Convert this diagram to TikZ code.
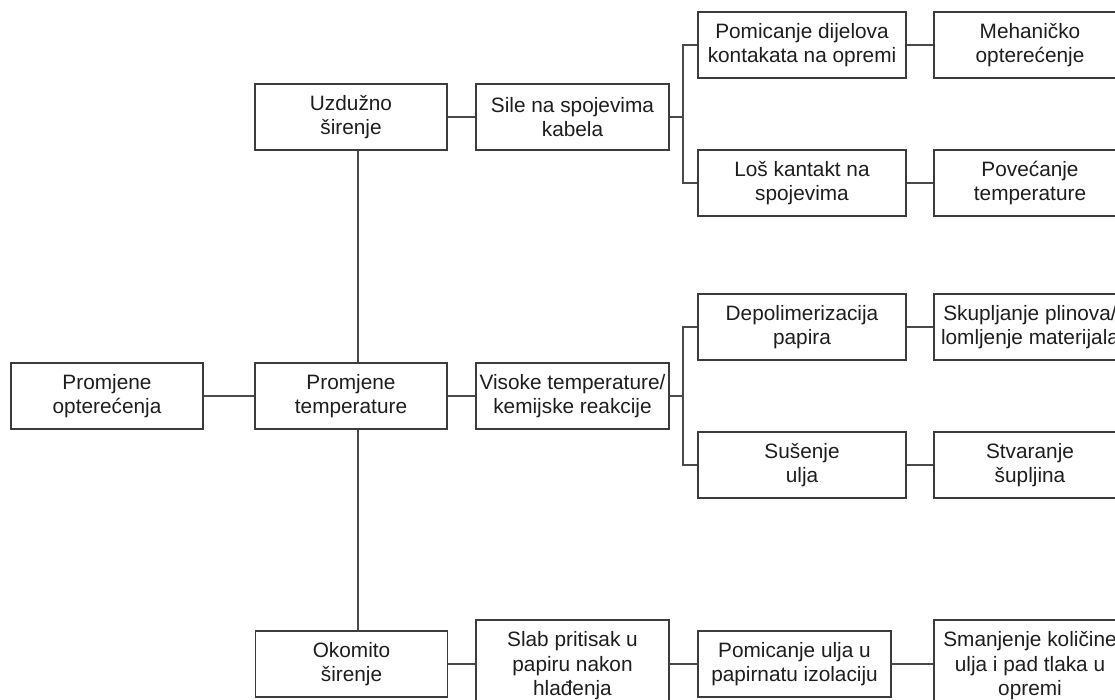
\documentclass[tikz,border=0pt]{standalone}
\usepackage{fontspec}
\setmainfont{Liberation Sans}
\definecolor{boxline}{HTML}{3C3C3C}
\definecolor{conn}{HTML}{4A4A4A}
\definecolor{txt}{HTML}{1E1E1E}
\begin{document}
\begin{tikzpicture}[x=1pt,y=-1pt,
  box/.style={draw=boxline, line width=1.4pt, fill=white, inner sep=0pt, align=center,
    minimum height=66pt, text=txt, font=\fontsize{20.8}{24.5}\selectfont},
  wA/.style={minimum width=192pt},
  wB/.style={minimum width=208pt},
  link/.style={draw=conn, line width=1.4pt}]
\useasboundingbox (0,0) rectangle (1115,699);
\clip (0,0) rectangle (1115,699);
% column 1
\node[box,wA] (A) at (107,396) {Promjene\\opterećenja};
% column 2
\node[box,wA] (B1) at (351,117) {Uzdužno\\širenje};
\node[box,wA] (B2) at (351,396) {Promjene\\temperature};
\node[box,wA] (B3) at (351.5,664) {Okomito\\širenje};
% column 3
\node[box,minimum width=193pt] (C1) at (572.5,117) {Sile na spojevima\\kabela};
\node[box,minimum width=193pt] (C2) at (572.5,396) {Visoke temperature/\\kemijske reakcije};
\node[box,minimum width=193pt,minimum height=92pt] (C3) at (572.5,666) {Slab pritisak u\\papiru nakon\\hlađenja};
% column 4
\node[box,wB] (D1) at (802,45) {Pomicanje dijelova\\kontakata na opremi};
\node[box,wB] (D2) at (802,183) {Loš kantakt na\\spojevima};
\node[box,wB] (D3) at (802,327) {Depolimerizacija\\papira};
\node[box,wB] (D4) at (802,465) {Sušenje\\ulja};
\node[box,minimum width=193pt] (D5) at (794.5,664) {Pomicanje ulja u\\papirnatu izolaciju};
% column 5
\node[box,wA] (E1) at (1030,45) {Mehaničko\\opterećenje};
\node[box,wA] (E2) at (1030,183) {Povećanje\\temperature};
\node[box,wA] (E3) at (1030,327) {Skupljanje plinova/\\lomljenje materijala};
\node[box,wA] (E4) at (1030,465) {Stvaranje\\šupljina};
\node[box,wA,minimum height=92pt] (E5) at (1030,666) {Smanjenje količine\\ulja i pad tlaka u\\opremi};
% trunk and bracket coordinates
\coordinate (tx) at (358,0);
\coordinate (bx) at (683,0);
% connectors
\draw[link] (A.east) -- (B2.west);
\draw[link] (B1.south -| tx) -- (B2.north -| tx);
\draw[link] (B2.south -| tx) -- (B3.north -| tx);
\draw[link] (B1.east) -- (C1.west);
\draw[link] (B2.east) -- (C2.west);
\draw[link] (B3.east) -- (B3.east -| C3.west);
\draw[link] (C1.east) -- (C1.east -| bx);
\draw[link] (D1.west) -- (D1.west -| bx) -- (D2.west -| bx) -- (D2.west);
\draw[link] (C2.east) -- (C2.east -| bx);
\draw[link] (D3.west) -- (D3.west -| bx) -- (D4.west -| bx) -- (D4.west);
\draw[link] (D1.east) -- (E1.west);
\draw[link] (D2.east) -- (E2.west);
\draw[link] (D3.east) -- (E3.west);
\draw[link] (D4.east) -- (E4.west);
\draw[link] (D5.west -| C3.east) -- (D5.west);
\draw[link] (D5.east) -- (D5.east -| E5.west);
\end{tikzpicture}
\end{document}
